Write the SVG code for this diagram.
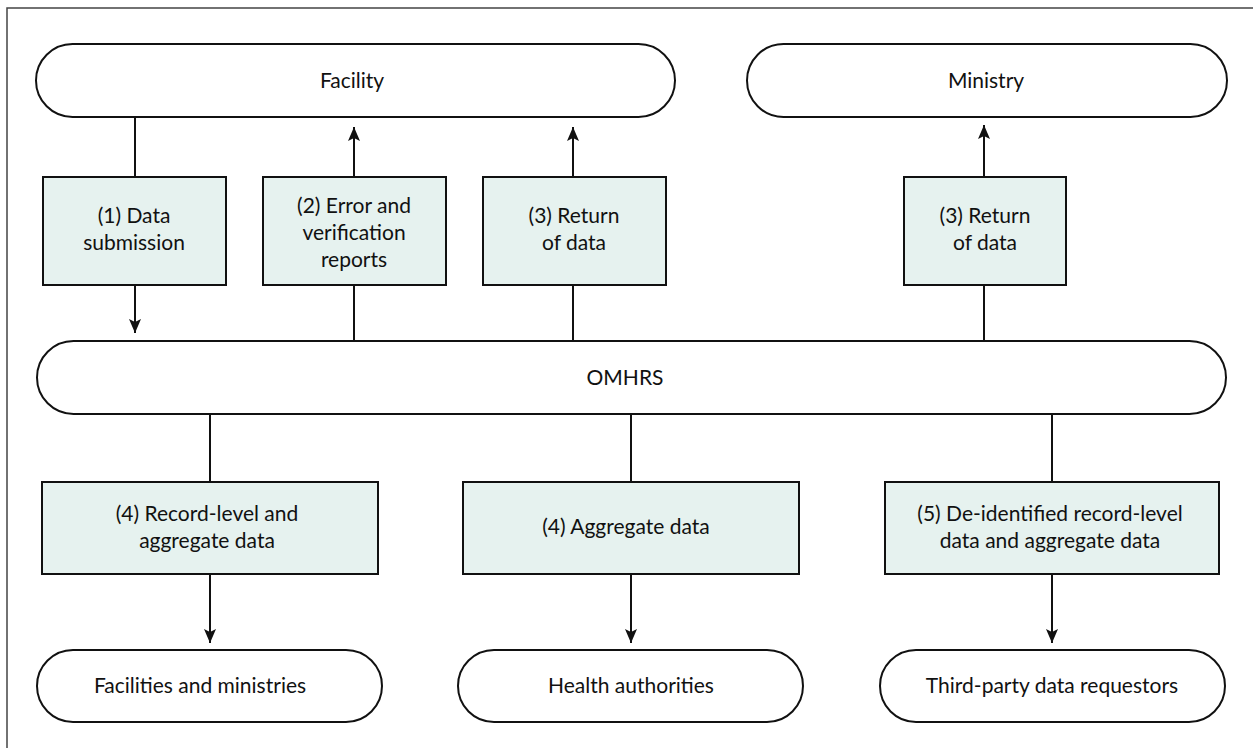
<svg xmlns="http://www.w3.org/2000/svg" width="1253" height="748" viewBox="0 0 1253 748">
<defs>
<style>
.pill{fill:#ffffff;stroke:#111;stroke-width:2}
.box{fill:#e6f2ef;stroke:#111;stroke-width:2}
.t{font-family:Lato,"Open Sans","Liberation Sans",sans-serif;font-size:21px;fill:#111;text-anchor:middle}
.c{stroke:#111;stroke-width:2;fill:none}
.frame{stroke:#444;stroke-width:1.5;fill:none}
</style>
<marker id="ah" viewBox="0 0 14 12" refX="14" refY="6" markerWidth="14" markerHeight="12" markerUnits="userSpaceOnUse" orient="auto">
<path d="M0,0 L14,6 L0,12 L3,6 Z" fill="#111"/>
</marker>
</defs>
<rect width="1253" height="748" fill="#fff"/>
<path class="frame" d="M7,748 V8 H1253"/>

<g id="facility">
<rect class="pill" x="36" y="44" width="639" height="73" rx="36.5"/>
<text class="t" x="352" y="88">Facility</text>
</g>
<g id="ministry">
<rect class="pill" x="747" y="44" width="480" height="73" rx="36.5"/>
<text class="t" x="986" y="88">Ministry</text>
</g>
<g id="box1">
<rect class="box" x="43" y="177" width="183" height="108"/>
<text class="t" x="134" y="223">(1) Data</text>
<text class="t" x="134" y="250">submission</text>
</g>
<g id="box2">
<rect class="box" x="263" y="177" width="183" height="108"/>
<text class="t" x="354" y="213">(2) Error and</text>
<text class="t" x="354" y="240">verification</text>
<text class="t" x="354" y="267">reports</text>
</g>
<g id="box3">
<rect class="box" x="483" y="177" width="183" height="108"/>
<text class="t" x="574" y="223">(3) Return</text>
<text class="t" x="574" y="250">of data</text>
</g>
<g id="box3b">
<rect class="box" x="904" y="177" width="162" height="108"/>
<text class="t" x="985" y="223">(3) Return</text>
<text class="t" x="985" y="250">of data</text>
</g>
<g id="omhrs">
<rect class="pill" x="37" y="341" width="1189" height="73" rx="36.5"/>
<text class="t" x="625" y="385">OMHRS</text>
</g>
<g id="box4a">
<rect class="box" x="42" y="482" width="336" height="92"/>
<text class="t" x="207" y="521">(4) Record-level and</text>
<text class="t" x="207" y="548">aggregate data</text>
</g>
<g id="box4b">
<rect class="box" x="463" y="482" width="336" height="92"/>
<text class="t" x="626" y="534">(4) Aggregate data</text>
</g>
<g id="box5">
<rect class="box" x="885" y="482" width="334" height="92"/>
<text class="t" x="1050" y="521">(5) De-identified record-level</text>
<text class="t" x="1050" y="548">data and aggregate data</text>
</g>
<g id="dest1">
<rect class="pill" x="37" y="650" width="345" height="72" rx="36"/>
<text class="t" x="200" y="693">Facilities and ministries</text>
</g>
<g id="dest2">
<rect class="pill" x="458" y="650" width="345" height="72" rx="36"/>
<text class="t" x="631" y="693">Health authorities</text>
</g>
<g id="dest3">
<rect class="pill" x="880" y="650" width="345" height="72" rx="36"/>
<text class="t" x="1052" y="693">Third-party data requestors</text>
</g>

<g id="connectors">
<path class="c" d="M135,117 V177"/>
<path class="c" d="M135,285 V333" marker-end="url(#ah)"/>
<path class="c" d="M354,341 V285"/>
<path class="c" d="M354,177 V127" marker-end="url(#ah)"/>
<path class="c" d="M573,341 V285"/>
<path class="c" d="M573,177 V127" marker-end="url(#ah)"/>
<path class="c" d="M984,341 V285"/>
<path class="c" d="M984,177 V125" marker-end="url(#ah)"/>
<path class="c" d="M210,414 V482"/>
<path class="c" d="M210,574 V643" marker-end="url(#ah)"/>
<path class="c" d="M631,414 V482"/>
<path class="c" d="M631,574 V643" marker-end="url(#ah)"/>
<path class="c" d="M1052,414 V482"/>
<path class="c" d="M1052,574 V643" marker-end="url(#ah)"/>
</g>
</svg>
